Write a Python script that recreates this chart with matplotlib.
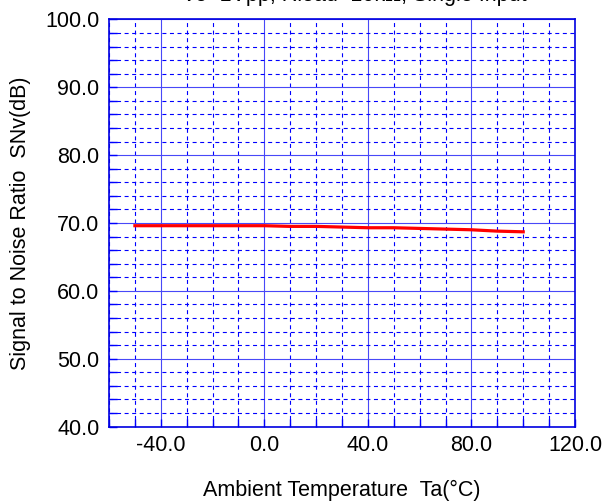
import matplotlib
matplotlib.use('Agg')
import matplotlib.pyplot as plt
from matplotlib.ticker import MultipleLocator, FormatStrFormatter

plt.rcParams['font.family'] = ['Liberation Sans', 'DejaVu Sans']

# data
temp = [-50, -40, -20, 0, 10, 20, 30, 40, 50, 60, 70, 80, 90, 100]
snr = [69.6, 69.6, 69.6, 69.6, 69.5, 69.5, 69.4, 69.3, 69.3, 69.2, 69.1, 69.0, 68.8, 68.7]

x_ticks = [-40, 0, 40, 80, 120]
y_ticks = [40, 50, 60, 70, 80, 90, 100]
title = 'Vo=1Vpp, Rload=10k\u03a9, Single Input'

blue = '#0000FF'

fig = plt.figure(figsize=(6.05, 5.01), dpi=100, facecolor='w')
ax = fig.add_axes([0.1802, 0.1487, 0.7702, 0.8124])

ax.set_xlim(-60, 120)
ax.set_ylim(40, 100)
ax.set_xticks(x_ticks)
ax.set_yticks(y_ticks)
ax.xaxis.set_minor_locator(MultipleLocator(10))
ax.yaxis.set_minor_locator(MultipleLocator(2))
ax.xaxis.set_major_formatter(FormatStrFormatter('%.1f'))
ax.yaxis.set_major_formatter(FormatStrFormatter('%.1f'))

ax.grid(which='major', color='#4848F8', linestyle='-', linewidth=0.8)
ax.grid(which='minor', color=blue, linestyle=(0, (3.6, 3.2)), linewidth=0.8)
ax.set_axisbelow(True)

for s in ax.spines.values():
    s.set_color('#0000E0')
    s.set_linewidth(1.2)

ax.tick_params(which='both', direction='in', colors=blue, labelcolor='black',
               labelsize=15.5, top=False, right=False, width=1.0)
ax.tick_params(which='major', length=5.8)
ax.tick_params(which='minor', length=5.8)
ax.tick_params(axis='x', pad=6)
ax.tick_params(axis='y', pad=7)

ax.plot(temp, snr, color='#FF0000', linewidth=2.3)

ax.set_xlabel('Ambient Temperature  Ta(\u00b0C)', fontsize=15.5, labelpad=17)
ax.set_ylabel('Signal to Noise Ratio  SNv(dB)', fontsize=15.5, labelpad=10)

# title sits mostly above the top edge, as in the reference
fig.text(0.585, 1 - 1 / 501, title, ha='center', va='baseline', fontsize=15.5)

fig.savefig('out.png', dpi=100, facecolor='w')
